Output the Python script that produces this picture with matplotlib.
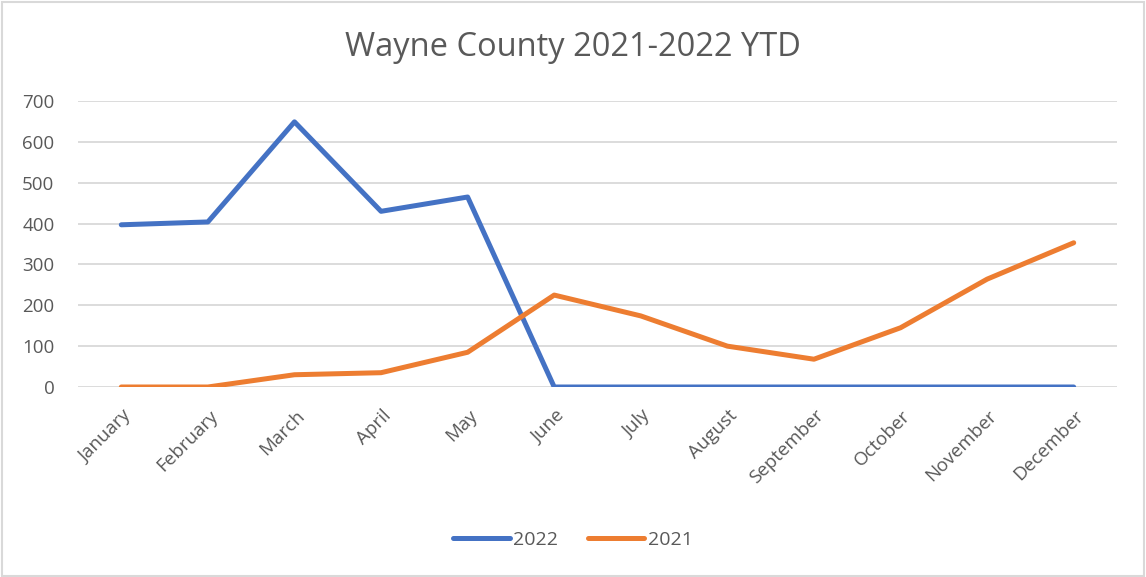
import matplotlib.pyplot as plt
import matplotlib.transforms as mtransforms
from matplotlib.patches import Rectangle

plt.rcParams['font.family'] = ['Open Sans', 'DejaVu Sans']

months = ['January', 'February', 'March', 'April', 'May', 'June', 'July',
          'August', 'September', 'October', 'November', 'December']
y2022 = [397, 404, 649, 430, 465, 0, 0, 0, 0, 0, 0, 0]
y2021 = [0, 0, 30, 35, 85, 225, 174, 100, 68, 145, 264, 353]
yticks = [0, 100, 200, 300, 400, 500, 600, 700]

fig = plt.figure(figsize=(11.46, 5.77), dpi=100)
ax = fig.add_axes([78/1146, 1 - 387/577, (1117-78)/1146, (387-101)/577])

x = list(range(len(months)))
ax.plot(x, y2022, color='#4472C4', lw=3.6, label='2022', solid_capstyle='round', zorder=3)
ax.plot(x, y2021, color='#ED7D31', lw=3.6, label='2021', solid_capstyle='round', zorder=3)

ax.set_xlim(-0.5, 11.5)
ax.set_ylim(0, 700)
ax.set_yticks(yticks)
ax.set_xticks(x)
ax.set_xticklabels(months, rotation=45, ha='right', rotation_mode='anchor')
ax.grid(axis='y', color='#D9D9D9', lw=1.3)
ax.set_axisbelow(True)
for s in ax.spines.values():
    s.set_visible(False)
ax.tick_params(length=0, labelsize=13.5, labelcolor='#595959')
ax.tick_params(axis='y', pad=17)
ax.tick_params(axis='x', pad=14)

# nudge the rotated month labels a little to the right
shift = mtransforms.ScaledTranslation(1/100, 0, fig.dpi_scale_trans)
for lab in ax.get_xticklabels():
    lab.set_transform(lab.get_transform() + shift)

fig.text(0.5, 1 - 47/577, 'Wayne County 2021-2022 YTD', ha='center', va='center',
         fontsize=23.5, color='#595959')

ax.legend(loc='center', bbox_to_anchor=(0.5, 1 - 540/577), bbox_transform=fig.transFigure,
          ncol=2, frameon=False, fontsize=14, labelcolor='#595959', handlelength=2.9,
          columnspacing=1.5, handletextpad=0.2)

fig.patches.append(Rectangle((0.002, 0.002), 0.996, 0.994, transform=fig.transFigure,
                             fill=False, edgecolor='#D9D9D9', lw=1.5))

fig.savefig('out.png', dpi=100)
